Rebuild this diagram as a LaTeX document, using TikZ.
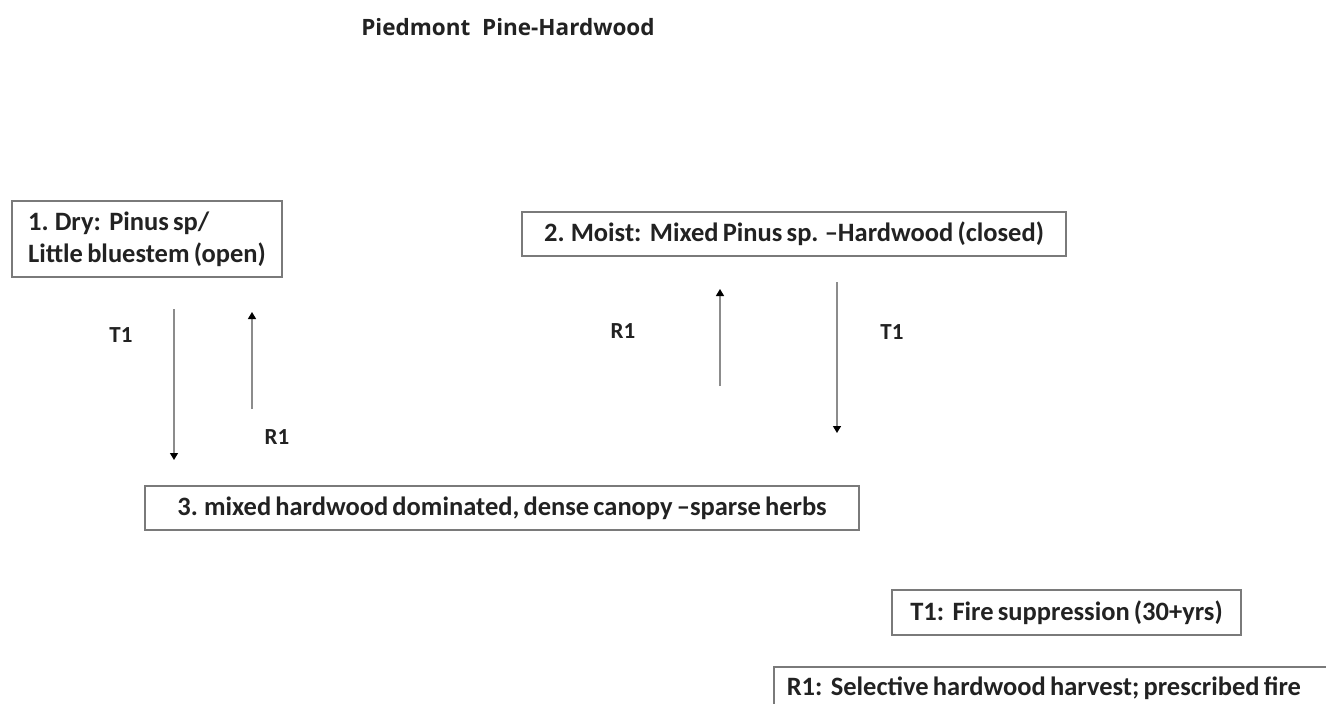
\documentclass[tikz,border=0pt]{standalone}
\usepackage{fontspec}
\setmainfont{Carlito}[WordSpace=0.7]
\newfontfamily\titlefont{Open Sans}
\usetikzlibrary{arrows.meta,positioning}
\definecolor{inkgray}{HTML}{222222}
\definecolor{boxgray}{HTML}{7A7A7A}
\definecolor{linegray}{HTML}{8C8C8C}
\begin{document}
\begin{tikzpicture}[x=1pt,y=-1pt,
    statebox/.style = {draw=boxgray,line width=1.6pt,fill=white,inner sep=0pt,
                       text=inkgray,font=\fontsize{26.5}{32}\selectfont\bfseries},
    lbl/.style = {text=inkgray,font=\fontsize{23}{26}\selectfont\bfseries},
    arrow/.style = {linegray,line width=1.4pt,-{Triangle[length=7pt,width=8pt,fill=black,color=black]}}]
\useasboundingbox[fill=white] (0,0) rectangle (1326,704);
\clip (0,0) rectangle (1326,704);
% title
\node[text=inkgray,font=\titlefont\fontsize{22.5}{26}\selectfont\bfseries] (title) at (508,27) {Piedmont\ \ Pine-Hardwood};
% states
\node[statebox,minimum width=270pt,minimum height=76pt,align=left] (dry) at (147,239)
    {1. Dry:\ \ Pinus sp/\\Little bluestem (open)};
\node[statebox,minimum width=544pt,minimum height=44pt] (moist) at (794,234)
    {2. Moist:\ \ Mixed Pinus sp. --Hardwood (closed)};
\node[statebox,minimum width=714pt,minimum height=44pt] (mixed) at (502,508)
    {3. mixed hardwood dominated, dense canopy --sparse herbs};
% legend
\node[statebox,minimum width=349pt,minimum height=45pt] (keyT) at (1066.5,612.5)
    {T1:\ \ Fire suppression (30+yrs)};
\node[statebox,anchor=north west,inner xsep=13pt,minimum height=42pt,
      text width=580pt,align=flush left] (keyR) at (773,666)
    {R1:\ \ Selective hardwood harvest; prescribed fire};
% arrow ends
\coordinate (dryT) at (174,309);
\coordinate (dryTend) at (174,460);
\coordinate (dryR) at (252,409);
\coordinate (dryRend) at (252,312);
\coordinate (moistR) at (720,386);
\coordinate (moistRend) at (720,289);
\coordinate (moistT) at (837,282);
\coordinate (moistTend) at (837,433);
\draw[arrow] (dryT) -- (dryTend);
\draw[arrow] (dryR) -- (dryRend);
\draw[arrow] (moistR) -- (moistRend);
\draw[arrow] (moistT) -- (moistTend);
% arrow labels
\node[lbl] (t1a) at (121,335) {T1};
\node[lbl] (r1a) at (277,437) {R1};
\node[lbl] (r1b) at (623,331) {R1};
\node[lbl] (t1b) at (892,332) {T1};
\end{tikzpicture}
\end{document}
